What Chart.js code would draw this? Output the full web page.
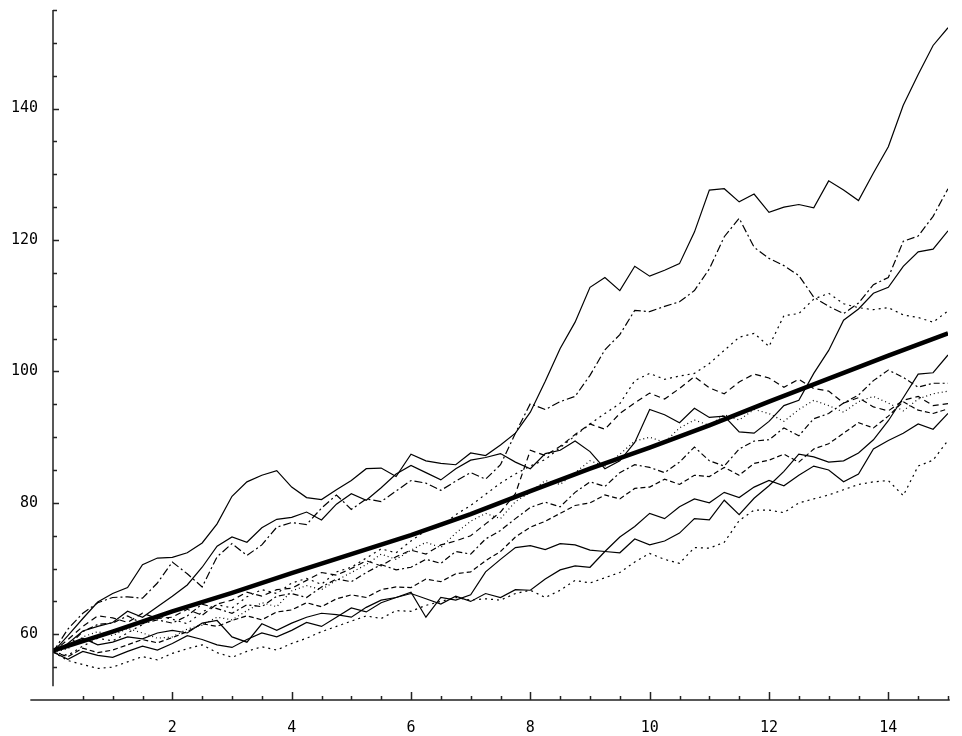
<!DOCTYPE html>
<html>
<head>
<meta charset="utf-8">
<title>Simulated price paths</title>
<script src="https://cdn.jsdelivr.net/npm/chart.js@4.4.1/dist/chart.umd.min.js"></script>
<style>
  html, body { margin: 0; padding: 0; background: #fff; }
  .chart-box { width: 962px; height: 736px; position: relative; }
</style>
</head>
<body>
<div class="chart-box"><canvas id="paths"></canvas></div>
<script>
// time grid shared by the simulated paths
const times = [
  0, 0.25, 0.5, 0.75, 1, 1.25, 1.5, 1.75, 2, 2.25, 2.5, 2.75,
  3, 3.25, 3.5, 3.75, 4, 4.25, 4.5, 4.75, 5, 5.25, 5.5, 5.75,
  6, 6.25, 6.5, 6.75, 7, 7.25, 7.5, 7.75, 8, 8.25, 8.5, 8.75,
  9, 9.25, 9.5, 9.75, 10, 10.25, 10.5, 10.75, 11, 11.25, 11.5, 11.75,
  12, 12.25, 12.5, 12.75, 13, 13.25, 13.5, 13.75, 14, 14.25, 14.5, 14.75, 15
];

// paths, one value per entry of times (rows = one time unit)
const pathA = [
  57.3, 59.8, 62.4, 64.9,  66.2, 67.1, 70.6, 71.6,  71.7, 72.4, 73.9, 76.8,
  81.0, 83.2, 84.2, 84.9,  82.4, 80.8, 80.5, 82.0,  83.4, 85.2, 85.3, 84.0,
  87.4, 86.4, 86.0, 85.8,  87.6, 87.2, 88.8, 90.6,  93.8, 98.5, 103.5, 107.5,
  112.8, 114.3, 112.3, 116.0,  114.5, 115.4, 116.4, 121.2,  127.6, 127.8, 125.8, 127.0,
  124.2, 125.0, 125.4, 124.9,  129.0, 127.6, 126.0, 130.2,  134.2, 140.5, 145.2, 149.6,
  152.3
];
const pathB = [
  57.3, 60.8, 63.2, 64.8,  65.6, 65.7, 65.5, 67.8,  71.0, 69.2, 67.2, 71.8,
  73.8, 72.0, 73.6, 76.3,  77.0, 76.7, 79.2, 81.2,  79.0, 80.6, 80.2, 81.8,
  83.4, 83.0, 81.9, 83.3,  84.6, 83.6, 85.8, 90.6,  95.1, 94.2, 95.4, 96.2,
  99.4, 103.3, 105.6, 109.3,  109.1, 109.9, 110.6, 112.3,  115.6, 120.5, 123.3, 118.9,
  117.2, 116.1, 114.6, 111.3,  109.9, 108.8, 110.4, 113.2,  114.3, 119.8, 120.6, 123.6,
  127.8
];
const pathC = [
  57.3, 58.6, 60.5, 61.2,  61.8, 63.5, 62.6, 64.2,  65.8, 67.5, 70.2, 73.4,
  74.8, 74.0, 76.2, 77.5,  77.8, 78.6, 77.4, 79.8,  81.4, 80.4, 82.3, 84.4,
  85.7, 84.6, 83.5, 85.2,  86.5, 86.9, 87.5, 86.2,  85.2, 87.5, 88.0, 89.4,
  87.8, 85.2, 86.4, 89.2,  94.2, 93.4, 92.2, 94.4,  93.0, 93.2, 90.8, 90.6,
  92.4, 94.8, 95.6, 99.7,  103.2, 107.8, 109.5, 111.9,  112.8, 116.0, 118.2, 118.6,
  121.4
];
const pathD = [
  57.3, 56.8, 58.2, 59.4,  59.0, 60.2, 61.5, 62.8,  62.3, 61.6, 63.4, 64.5,
  64.0, 65.7, 66.8, 66.2,  67.8, 68.5, 67.6, 69.5,  70.2, 71.6, 73.0, 72.4,
  74.2, 75.8, 76.4, 78.2,  79.6, 81.3, 83.0, 84.4,  85.6, 86.6, 88.4, 90.2,
  92.0, 93.6, 95.1, 98.6,  99.7, 98.8, 99.3, 99.7,  101.2, 103.2, 105.2, 105.8,
  103.8, 108.5, 108.8, 111.0,  111.9, 110.3, 109.7, 109.4,  109.7, 108.6, 108.2, 107.5,
  109.2
];
const pathE = [
  57.3, 58.5, 59.4, 58.4,  58.8, 59.6, 59.3, 60.2,  60.6, 60.2, 61.7, 62.1,
  59.6, 58.8, 61.6, 60.6,  61.7, 62.6, 63.2, 63.0,  62.6, 64.1, 65.2, 65.6,
  66.4, 62.6, 65.6, 65.2,  66.0, 69.5, 71.4, 73.2,  73.5, 72.9, 73.8, 73.6,
  72.8, 72.6, 72.4, 74.5,  73.6, 74.2, 75.4, 77.6,  77.4, 80.4, 78.2, 80.7,
  82.6, 84.8, 87.4, 87.0,  86.2, 86.4, 87.6, 89.6,  92.5, 96.0, 99.6, 99.8,
  102.5
];
const pathF = [
  57.3, 58.2, 60.4, 61.5,  61.7, 62.8, 61.6, 62.2,  61.7, 62.8, 64.6, 63.9,
  63.2, 64.5, 64.2, 65.8,  66.2, 65.6, 67.2, 68.4,  68.0, 69.4, 70.6, 69.8,
  70.2, 71.4, 70.8, 72.6,  72.2, 74.5, 75.8, 77.6,  79.3, 80.1, 79.4, 81.6,
  83.2, 82.5, 84.6, 85.8,  85.4, 84.6, 86.2, 88.5,  86.4, 85.6, 88.2, 89.4,
  89.6, 91.4, 90.2, 92.8,  93.6, 95.2, 96.4, 98.6,  100.2, 99.1, 97.6, 98.2,
  98.2
];
const pathG = [
  57.3, 56.6, 57.9, 57.2,  57.6, 58.4, 59.2, 58.7,  59.5, 60.4, 61.6, 61.2,
  62.1, 62.8, 62.2, 63.4,  63.7, 64.8, 64.2, 65.4,  66.0, 65.6, 66.8, 67.2,
  67.1, 68.4, 68.0, 69.2,  69.5, 71.2, 72.6, 74.8,  76.3, 77.2, 78.4, 79.6,
  80.0, 81.2, 80.6, 82.2,  82.4, 83.6, 82.8, 84.2,  84.0, 85.4, 84.2, 86.0,
  86.5, 87.4, 86.2, 88.2,  89.0, 90.6, 92.2, 91.4,  93.2, 95.4, 94.1, 93.6,
  94.3
];
const pathH = [
  57.3, 56.2, 57.4, 56.8,  56.5, 57.4, 58.2, 57.6,  58.6, 59.8, 59.2, 58.4,
  58.0, 59.2, 60.2, 59.6,  60.6, 61.8, 61.2, 62.6,  64.0, 63.4, 64.8, 65.6,
  66.2, 65.4, 64.6, 65.8,  65.0, 66.2, 65.6, 66.8,  66.7, 68.4, 69.8, 70.4,
  70.2, 72.6, 74.8, 76.4,  78.4, 77.6, 79.4, 80.6,  80.0, 81.6, 80.8, 82.4,
  83.4, 82.6, 84.2, 85.6,  85.0, 83.2, 84.4, 88.2,  89.5, 90.6, 92.0, 91.2,
  93.6
];
const pathI = [
  57.3, 56.0, 55.4, 54.8,  55.0, 55.8, 56.6, 56.1,  57.1, 57.8, 58.4, 57.2,
  56.5, 57.4, 58.1, 57.6,  58.6, 59.4, 60.4, 61.2,  62.0, 62.8, 62.4, 63.6,
  63.5, 64.4, 65.0, 65.6,  65.2, 65.4, 65.2, 66.2,  66.7, 65.6, 66.7, 68.2,
  67.8, 68.6, 69.4, 71.0,  72.3, 71.4, 70.8, 73.2,  73.1, 74.0, 77.3, 78.9,
  78.9, 78.5, 80.0, 80.6,  81.2, 82.0, 82.8, 83.2,  83.4, 81.1, 85.6, 86.5,
  89.5
];
const pathJ = [
  57.3, 57.8, 59.6, 60.4,  59.8, 60.9, 60.2, 59.4,  59.6, 60.8, 61.4, 62.6,
  62.2, 63.6, 64.8, 64.2,  66.6, 67.4, 66.8, 68.2,  69.4, 70.6, 72.2, 71.4,
  72.8, 74.0, 73.2, 75.4,  77.2, 78.4, 77.6, 80.2,  81.6, 83.4, 82.8, 84.6,
  86.4, 85.6, 87.4, 89.4,  90.0, 89.2, 91.4, 92.6,  91.8, 93.4, 92.6, 94.2,
  93.6, 92.4, 94.2, 95.6,  94.8, 93.8, 95.4, 96.2,  95.2, 94.0, 95.8, 96.6,
  97.0
];
const pathK = [
  57.3, 59.2, 61.2, 62.8,  62.5, 61.8, 63.2, 62.4,  62.6, 63.8, 62.9, 64.6,
  65.2, 66.4, 65.8, 66.8,  67.0, 68.2, 69.4, 69.0,  70.0, 71.2, 70.4, 71.8,
  72.8, 72.2, 73.6, 74.2,  75.0, 76.8, 78.6, 81.4,  88.0, 87.2, 88.6, 90.4,
  92.0, 91.2, 93.6, 95.2,  96.7, 95.8, 97.4, 99.2,  97.5, 96.6, 98.4, 99.6,
  99.0, 97.6, 98.8, 97.4,  97.0, 95.2, 96.0, 94.6,  94.0, 95.6, 96.2, 94.8,
  95.1
];

// expected value curve (thick line)
const meanTimes = [0, 1, 2, 3, 4, 5, 6, 7, 8, 9, 10, 11, 12, 13, 14, 15];
const meanValues = [57.5, 60.4, 63.5, 66.3, 69.3, 72.2, 75.1, 78.3, 81.8, 85.2, 88.4, 91.8, 95.4, 98.9, 102.4, 105.8];

// axis ticks
const xTickLabels = [2, 4, 6, 8, 10, 12, 14];
const yTickLabels = [60, 80, 100, 120, 140];

const paths = [
  { values: pathA, dash: [] },
  { values: pathB, dash: [8, 3, 2, 3] },
  { values: pathC, dash: [] },
  { values: pathD, dash: [2, 4] },
  { values: pathE, dash: [] },
  { values: pathF, dash: [6, 3, 2, 3] },
  { values: pathG, dash: [5, 3] },
  { values: pathH, dash: [] },
  { values: pathI, dash: [2, 4] },
  { values: pathJ, dash: [1, 3] },
  { values: pathK, dash: [6, 4] }
];

const toPoints = (xs, ys) => xs.map((t, i) => ({ x: t, y: ys[i] }));

const datasets = [{
  data: toPoints(meanTimes, meanValues),
  borderColor: '#000',
  borderWidth: 4.5,
  pointRadius: 0
}].concat(paths.map(p => ({
  data: toPoints(times, p.values),
  borderColor: '#000',
  borderWidth: 1.2,
  borderDash: p.dash,
  pointRadius: 0
})));

// Mathematica-style axes: y axis at t = 0, ticks pointing inward
const axesPlugin = {
  id: 'axes',
  afterDraw(chart) {
    const { ctx } = chart;
    const x = chart.scales.x, y = chart.scales.y;
    ctx.save();
    ctx.strokeStyle = '#222';
    ctx.lineWidth = 1.5;
    const px0 = x.getPixelForValue(0);
    ctx.beginPath();
    ctx.moveTo(px0, y.getPixelForValue(52.1));
    ctx.lineTo(px0, y.getPixelForValue(155));
    for (let v = 55; v <= 155; v += 5) {
      const py = Math.round(y.getPixelForValue(v)) + 0.5;
      ctx.moveTo(px0, py);
      ctx.lineTo(px0 + (v % 20 === 0 ? 6 : 4), py);
    }
    const pyAxis = y.getPixelForValue(50);
    ctx.moveTo(x.getPixelForValue(-0.38), pyAxis);
    ctx.lineTo(x.getPixelForValue(15.03), pyAxis);
    for (let t = 0.5; t <= 15; t += 0.5) {
      const px = Math.round(x.getPixelForValue(t)) + 0.5;
      ctx.moveTo(px, pyAxis);
      ctx.lineTo(px, pyAxis - (t % 2 === 0 ? 8 : 4));
    }
    ctx.stroke();
    ctx.restore();
  }
};

const tickFont = { family: 'DejaVu Sans Mono', size: 15 };

new Chart(document.getElementById('paths'), {
  type: 'line',
  data: { datasets },
  plugins: [axesPlugin],
  options: {
    responsive: true,
    maintainAspectRatio: false,
    animation: false,
    layout: { padding: { top: 10, right: 14, left: 0, bottom: 0 } },
    plugins: { legend: { display: false }, tooltip: { enabled: false } },
    elements: { line: { tension: 0 } },
    scales: {
      x: {
        type: 'linear',
        min: 0,
        max: 15,
        afterBuildTicks: s => { s.ticks = xTickLabels.map(v => ({ value: v })); },
        afterFit: s => { s.height = 36; s.paddingLeft = 0; s.paddingRight = 0; },
        grid: { display: false, drawTicks: false },
        border: { display: false },
        ticks: { font: tickFont, color: '#000', padding: 19, autoSkip: false, maxRotation: 0 }
      },
      y: {
        type: 'linear',
        min: 50,
        max: 155,
        afterBuildTicks: s => { s.ticks = yTickLabels.map(v => ({ value: v })); },
        afterFit: s => { s.width = 53; s.paddingTop = 0; s.paddingBottom = 0; },
        grid: { display: false, drawTicks: false },
        border: { display: false },
        ticks: { font: tickFont, color: '#000', padding: 15 }
      }
    }
  }
});
</script>
</body>
</html>
